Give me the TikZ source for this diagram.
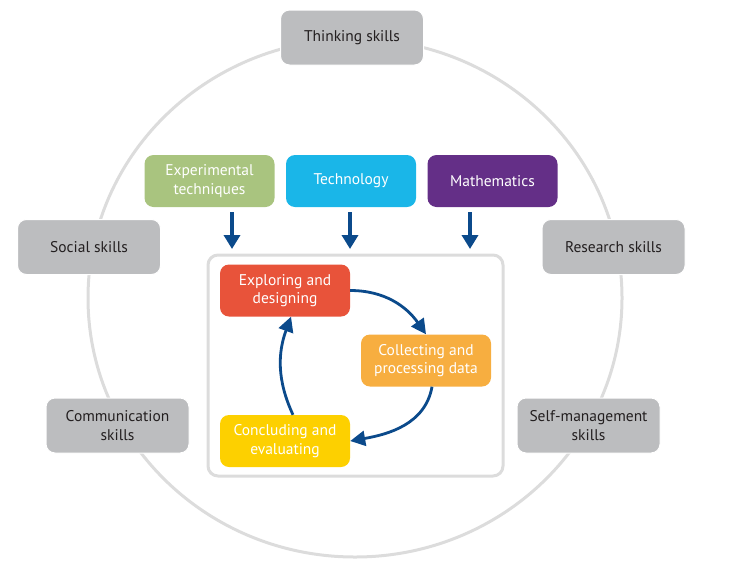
\documentclass[tikz,border=0pt]{standalone}
\usepackage{fontspec}
\setmainfont{PT Sans}
\usetikzlibrary{arrows.meta}
\definecolor{skillgray}{HTML}{BCBDBF}
\definecolor{ringgray}{HTML}{DCDCDC}
\definecolor{txtdark}{HTML}{231F20}
\definecolor{expgreen}{HTML}{A9C47F}
\definecolor{techblue}{HTML}{1AB6E8}
\definecolor{mathpurple}{HTML}{642F87}
\definecolor{explred}{HTML}{E8533A}
\definecolor{collorange}{HTML}{F7AE40}
\definecolor{concyellow}{HTML}{FDD000}
\definecolor{arrowblue}{HTML}{0B4A8B}
\tikzset{
  skillbox/.style={fill=skillgray, draw=white, line width=1pt, rounded corners=9pt, minimum width=143pt, minimum height=55pt, align=center, text=txtdark, font=\fontsize{15.5}{18.5}\selectfont, inner sep=2pt},
  topicbox/.style={rounded corners=9pt, minimum width=130pt, minimum height=52pt, align=center, text=white, font=\fontsize{15.5}{18.5}\selectfont, inner sep=2pt},
  downarrow/.style={draw=arrowblue, line width=3.5pt, -{Triangle[width=16pt,length=14pt]}},
  cyclearrow/.style={draw=arrowblue, line width=2.8pt, -{Triangle[width=15pt,length=15pt]}},
}
\begin{document}
\begin{tikzpicture}[x=1pt,y=-1pt]
\useasboundingbox (0,0) rectangle (751,573);
% outer ring
\draw[ringgray, line width=3pt] (355,298) ellipse [x radius=267, y radius=259];
% skill boxes
\node[skillbox] (think) at (352,37.5) {Thinking skills};
\node[skillbox] (social) at (89,247) {Social skills};
\node[skillbox] (research) at (613.5,247) {Research skills};
\node[skillbox] (comm) at (117.5,425.5) {Communication\\skills};
\node[skillbox] (selfm) at (588.5,425.5) {Self-management\\skills};
% topic boxes
\node[topicbox, fill=expgreen] (exper) at (209.5,181) {Experimental\\techniques};
\node[topicbox, fill=techblue] (tech) at (351,181) {Technology};
\node[topicbox, fill=mathpurple] (maths) at (492.5,181) {Mathematics};
% inner frame
\node[draw=ringgray, line width=3pt, rounded corners=10pt, minimum width=295pt, minimum height=221pt, inner sep=0pt] (frame) at (355.5,365.5) {};
% process boxes
\node[topicbox, fill=explred] (expl) at (285,290.5) {Exploring and\\designing};
\node[topicbox, fill=collorange] (coll) at (426,360.5) {Collecting and\\processing data};
\node[topicbox, fill=concyellow] (conc) at (285,441) {Concluding and\\evaluating};
% down arrows
\coordinate (a1s) at (232,212); \coordinate (a1e) at (232,249);
\coordinate (a2s) at (350,212); \coordinate (a2e) at (350,249);
\coordinate (a3s) at (470,212); \coordinate (a3e) at (470,249);
\draw[downarrow] (a1s) -- (a1e);
\draw[downarrow] (a2s) -- (a2e);
\draw[downarrow] (a3s) -- (a3e);
% cycle arrows
\draw[cyclearrow] (expl.east) to[out=0,in=125] (coll.north);
\draw[cyclearrow] ([xshift=6pt]coll.south) to[out=-100,in=10] (conc.east);
\draw[cyclearrow] ([xshift=8pt]conc.north) to[out=115,in=-110] ([xshift=6pt]expl.south);
\end{tikzpicture}
\end{document}
